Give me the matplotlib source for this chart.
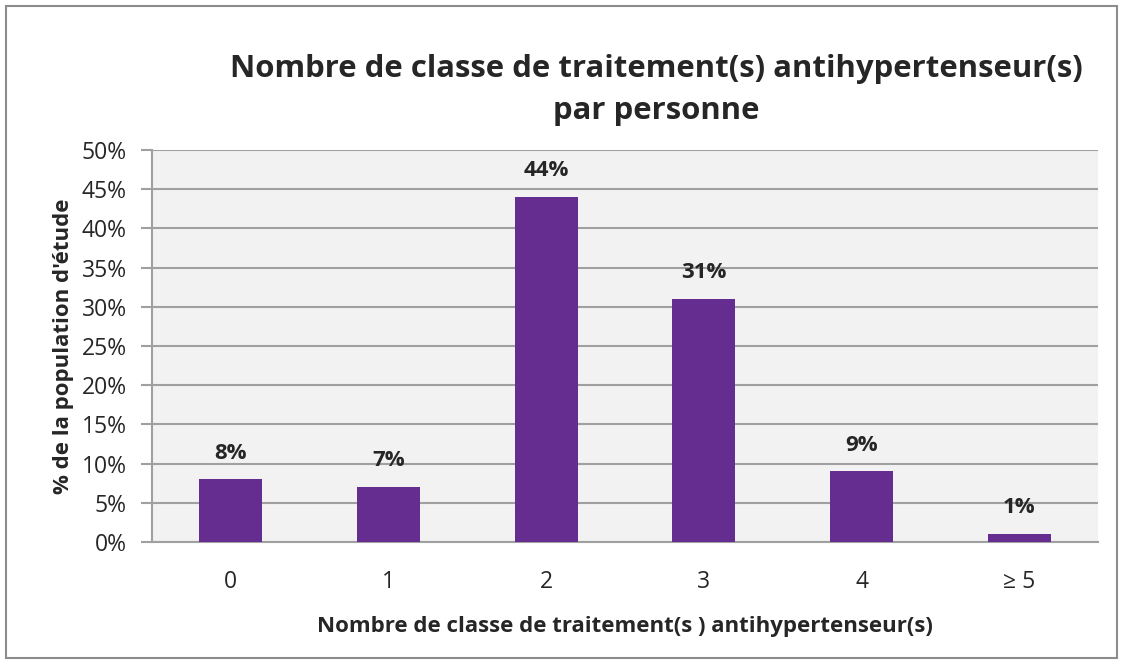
import numpy as np
import matplotlib.pyplot as plt
from matplotlib.patches import Rectangle

categories = ['0', '1', '2', '3', '4', '≥ 5']
values = [8, 7, 44, 31, 9, 1]
value_labels = ['8%', '7%', '44%', '31%', '9%', '1%']
yticks = [0, 5, 10, 15, 20, 25, 30, 35, 40, 45, 50]

plt.rcParams['font.family'] = ['Open Sans', 'DejaVu Sans']

fig = plt.figure(figsize=(11.23, 6.64), dpi=100)
ax = fig.add_axes([152 / 1123, 1 - 542 / 664, (1098 - 152) / 1123, (542 - 150) / 664])

# outer frame of the chart
fig.patches.append(Rectangle((6 / 1123, 6 / 664), 1111 / 1123, 652 / 664,
                             transform=fig.transFigure, fill=False,
                             edgecolor='#8c8c8c', linewidth=1.5))

x = np.arange(len(categories))
ax.set_facecolor('#f2f2f2')
ax.bar(x, values, width=0.4, color='#662d91', zorder=3)
for xi, v, lab in zip(x, values, value_labels):
    ax.text(xi, v + 2.0, lab, ha='center', va='bottom', fontsize=16,
            fontweight='bold', color='#262626', zorder=4)

ax.set_xlim(-0.5, len(categories) - 0.5)
ax.set_ylim(0, 50)
ax.set_yticks(yticks)
ax.set_yticklabels([f'{t}%' for t in yticks], fontsize=16.5, color='#262626')
ax.set_xticks(x)
ax.set_xticklabels(categories, fontsize=16.5, color='#262626')
ax.tick_params(axis='x', length=0, pad=20)
ax.tick_params(axis='y', length=8, width=1.5, color='#a0a0a0', pad=10)
ax.grid(axis='y', color='#a0a0a0', linewidth=1.5, zorder=1)
for s in ['top', 'right']:
    ax.spines[s].set_visible(False)
for s in ['left', 'bottom']:
    ax.spines[s].set_color('#a0a0a0')
    ax.spines[s].set_linewidth(1.5)

ax.set_xlabel('Nombre de classe de traitement(s ) antihypertenseur(s)', fontsize=16,
              fontweight='bold', color='#262626', labelpad=16)
ax.set_ylabel("% de la population d'étude", fontsize=16, fontweight='bold',
              color='#262626', labelpad=6)

fig.text(656 / 1123, 1 - 90 / 664,
         'Nombre de classe de traitement(s) antihypertenseur(s)\npar personne',
         ha='center', va='center', fontsize=22.4, fontweight='bold',
         color='#262626', linespacing=1.5)

fig.savefig('out.png', dpi=100, facecolor='white')
